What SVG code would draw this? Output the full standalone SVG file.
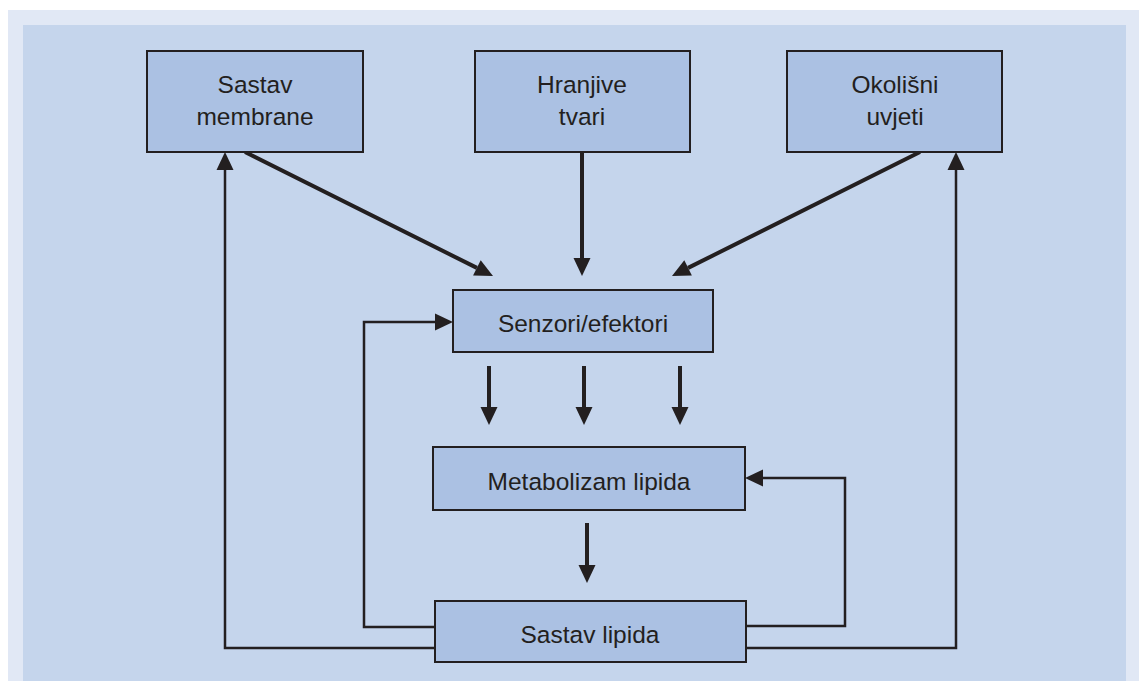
<svg xmlns="http://www.w3.org/2000/svg" width="1139" height="681" viewBox="0 0 1139 681">
<style>
.node rect{fill:#abc1e3;stroke:#231f20;stroke-width:2}
.node text{font-family:"Liberation Sans",Arial,sans-serif;font-size:24.5px;fill:#231f20;text-anchor:middle}
.thick{stroke:#231f20;stroke-width:4;fill:none}
.thin{stroke:#231f20;stroke-width:2.5;fill:none}
</style>
<defs>
<marker id="ah" markerUnits="userSpaceOnUse" markerWidth="18" markerHeight="18" refX="0" refY="8.5" orient="auto" viewBox="0 0 18 17" overflow="visible">
<path d="M0,0 L18,8.5 L0,17 Z" fill="#231f20"/>
</marker>
</defs>
<rect x="8" y="10" width="1131" height="671" fill="#e1e8f5"/>
<rect x="23" y="25" width="1103" height="656" fill="#c5d5ec"/>
<g id="connectors">
<line class="thick" x1="245" y1="152" x2="476.9" y2="267.9" marker-end="url(#ah)"/>
<line class="thick" x1="582" y1="152" x2="582" y2="258" marker-end="url(#ah)"/>
<line class="thick" x1="920" y1="152" x2="688.1" y2="267.9" marker-end="url(#ah)"/>
<line class="thick" x1="489" y1="366" x2="489" y2="407" marker-end="url(#ah)"/>
<line class="thick" x1="584" y1="366" x2="584" y2="407" marker-end="url(#ah)"/>
<line class="thick" x1="680" y1="366" x2="680" y2="407" marker-end="url(#ah)"/>
<line class="thick" x1="587" y1="523" x2="587" y2="565" marker-end="url(#ah)"/>
<polyline class="thin" points="435,627 364,627 364,322 435,322" marker-end="url(#ah)"/>
<polyline class="thin" points="435,648 225,648 225,170" marker-end="url(#ah)"/>
<polyline class="thin" points="746,626 845,626 845,478 763,478" marker-end="url(#ah)"/>
<polyline class="thin" points="746,648 956,648 956,170" marker-end="url(#ah)"/>
</g>
<g id="sastav-membrane" class="node">
<rect x="147" y="51" width="216" height="101"/>
<text x="255" y="93">Sastav</text>
<text x="255" y="125">membrane</text>
</g>
<g id="hranjive-tvari" class="node">
<rect x="475" y="51" width="215" height="101"/>
<text x="582" y="93">Hranjive</text>
<text x="582" y="125">tvari</text>
</g>
<g id="okolisni-uvjeti" class="node">
<rect x="787" y="51" width="215" height="101"/>
<text x="895" y="93">Okolišni</text>
<text x="895" y="125">uvjeti</text>
</g>
<g id="senzori-efektori" class="node">
<rect x="453" y="290" width="260" height="62"/>
<text x="583" y="332">Senzori/efektori</text>
</g>
<g id="metabolizam-lipida" class="node">
<rect x="433" y="447" width="312" height="63"/>
<text x="589" y="490">Metabolizam lipida</text>
</g>
<g id="sastav-lipida" class="node">
<rect x="435" y="601" width="311" height="61"/>
<text x="590" y="643">Sastav lipida</text>
</g>
</svg>
